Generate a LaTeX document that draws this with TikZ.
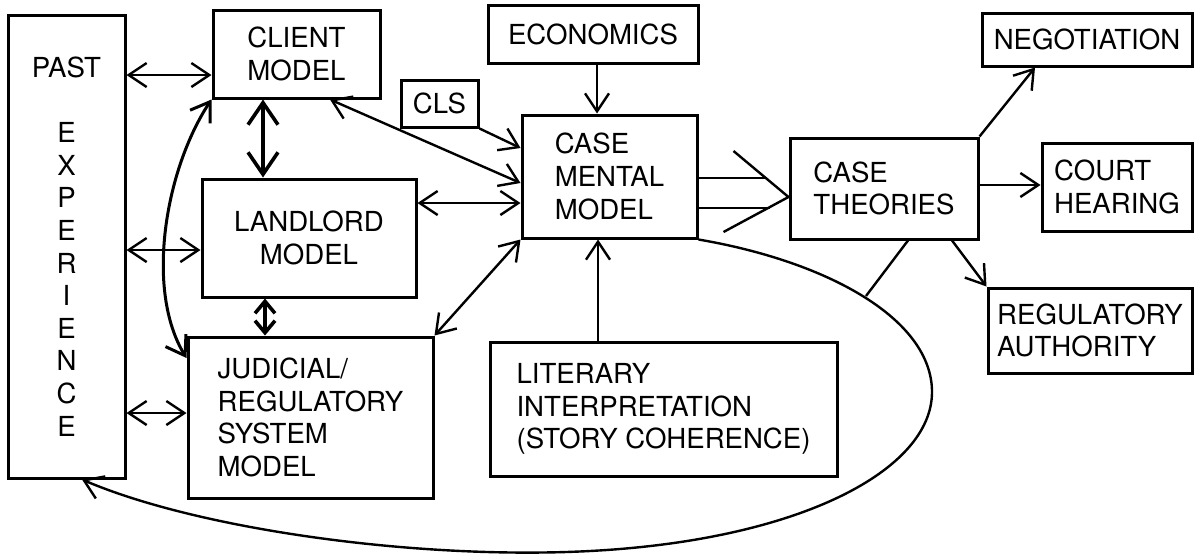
\documentclass[tikz,border=0pt]{standalone}
\usepackage{fontspec}
\setmainfont{TeX Gyre Heros}
\usetikzlibrary{arrows.meta}

\tikzset{every picture/.style={line width=1.2pt}}
\tikzset{
  box/.style={draw, line width=1.5pt, align=left, inner sep=0pt, font=\fontsize{13.8}{16.3}\selectfont},
  fwd/.style={-{Straight Barb[length=9pt,width=12pt]}},
  bidir/.style={{Straight Barb[length=9pt,width=12pt]}-{Straight Barb[length=9pt,width=12pt]}},
  bigbidir/.style={{Straight Barb[length=11pt,width=15pt]}-{Straight Barb[length=11pt,width=15pt]}},
  smallbidir/.style={{Straight Barb[length=6pt,width=10pt]}-{Straight Barb[length=6pt,width=10pt]}},
}

\begin{document}
\begin{tikzpicture}[x=0.5pt,y=0.5pt,yscale=-1,xscale=1]
\useasboundingbox (0,0) rectangle (1194,553);

% Boxes
\node[box, align=center, minimum width=58.5pt, minimum height=231.5pt] (past) at (66.5,246.5) {PAST\\[16.2pt]E\\X\\P\\E\\R\\I\\E\\N\\C\\E};
\node[box, align=center, minimum width=83.5pt, minimum height=44pt] (client) at (296.5,54) {CLIENT\\MODEL};
\node[box, align=center, minimum width=107pt, minimum height=59pt] (landlord) at (309,238) {LANDLORD\\MODEL};
\node[box, minimum width=122.5pt, minimum height=80.5pt] (judicial) at (310.5,417.5) {JUDICIAL/\\REGULATORY\\SYSTEM\\MODEL};
\node[box, minimum width=38.5pt, minimum height=23.5pt] (cls) at (439.5,103.5) {CLS};
\node[box, minimum width=105pt, minimum height=29pt] (economics) at (593,34) {ECONOMICS};
\node[box, minimum width=87.5pt, minimum height=61.5pt] (mental) at (609.5,176.5) {CASE\\MENTAL\\MODEL};
\node[box, minimum width=173.5pt, minimum height=67pt] (literary) at (663.5,409) {LITERARY\\INTERPRETATION\\(STORY COHERENCE)};
\node[box, minimum width=94pt, minimum height=50.5pt] (theories) at (884,188.5) {CASE\\THEORIES};
\node[box, minimum width=105pt, minimum height=26.5pt] (negotiation) at (1087,39.5) {NEGOTIATION};
\node[box, minimum width=75pt, minimum height=44pt] (court) at (1117,187) {COURT\\HEARING};
\node[box, minimum width=102pt, minimum height=42.5pt] (regulatory) at (1090,330.5) {REGULATORY\\AUTHORITY};

% Past experience links
\draw[bidir] (past.east |- 0,75) -- (client.west |- 0,75);
\draw[bidir] (past.east |- 0,250) -- (landlord.west |- 0,250);
\draw[bidir] (past.east |- 0,413) -- (judicial.west |- 0,413);

% Between the models
\draw[bigbidir, line width=1.8pt] (client.south -| 263,0) -- (landlord.north -| 263,0);
\draw[smallbidir, line width=1.8pt] (landlord.south -| 265,0) -- (judicial.north -| 265,0);
\draw[bidir, line width=1.5pt] (client.south west) .. controls (165,170) and (145,290) .. (judicial.west |- 0,358);

% Into the case mental model
\draw[bidir] (client.south -| 330,0) -- (mental.west |- 0,183);
\draw[bidir] (landlord.east |- 0,203) -- (mental.west |- 0,203);
\draw[bidir] (judicial.north east) -- (mental.south west);
\draw[fwd] (cls.south east) -- (mental.west |- 0,148);
\draw[fwd] (economics.south -| 597,0) -- (mental.north -| 597,0);
\draw[fwd] (literary.north -| 598,0) -- (mental.south -| 598,0);

% Double arrow to case theories
\coordinate (dbltip) at (theories.west |- 0,197);
\draw (mental.east |- 0,178) -- ++(66,0);
\draw (mental.east |- 0,208) -- ++(71,0);
\draw (dbltip) ++(-55,-46) -- (dbltip) -- ++(-65,35);

% Out of case theories
\draw[fwd] (theories.north east) -- (negotiation.south -| 1035,0);
\draw[fwd] (theories.east |- 0,185) -- (court.west |- 0,185);
\draw[fwd] (theories.south -| 952,0) -- (regulatory.north west);

% Feedback loop
\coordinate (loop) at (866,296);
\draw (theories.south -| 908,0) -- (loop);
\draw[fwd] (mental.south east) .. controls (830,262) and (932,320) .. (932,392) .. controls (932,470) and (800,540) .. (590,551) .. controls (420,560) and (200,530) .. (past.south -| 82,0);

\end{tikzpicture}
\end{document}
